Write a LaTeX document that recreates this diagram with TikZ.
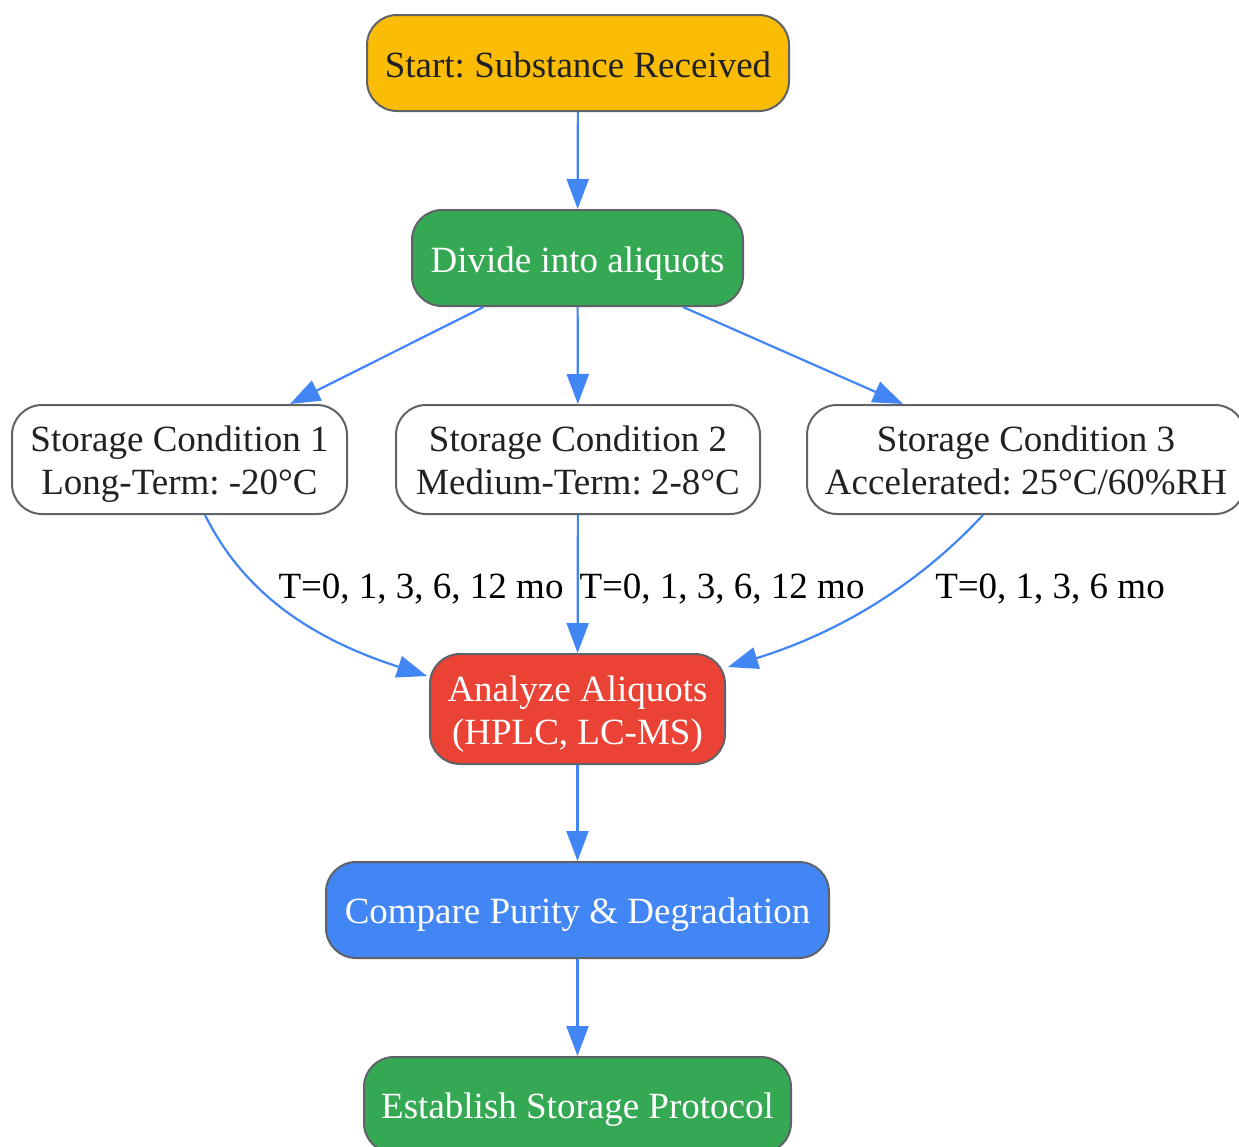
\documentclass[tikz,border=0pt]{standalone}
\usepackage{fontspec}
\setmainfont{Liberation Serif}
\frenchspacing
\usetikzlibrary{arrows.meta,calc}
\definecolor{gyellow}{HTML}{FBBC05}
\definecolor{ggreen}{HTML}{34A853}
\definecolor{gred}{HTML}{EA4335}
\definecolor{gblue}{HTML}{4285F4}
\definecolor{gborder}{HTML}{5F6368}
\definecolor{gtext}{HTML}{202124}
\tikzset{
  box/.style={draw=gborder, line width=1pt, rounded corners=15pt, inner sep=0pt},
  boxtxt/.style={inner sep=0pt, align=center, font=\fontsize{18.5}{21.5}\selectfont},
  flow/.style={draw=gblue, line width=1.1pt, -{Triangle[length=15pt,width=11pt]}},
  lab/.style={font=\fontsize{18.5}{21.5}\selectfont, text=black, inner sep=0pt}
}
\begin{document}
\begin{tikzpicture}[x=0.5pt,y=-0.5pt]
\clip (0,0) rectangle (1239,1147);
\fill[white] (0,0) rectangle (1239,1147);
\node[box, fill=gyellow, minimum width=211pt, minimum height=48pt] (start) at (578,63) {};
\node[box, fill=ggreen, minimum width=165.5pt, minimum height=48pt] (div) at (577.5,258) {};
\node[box, fill=white, minimum width=167.5pt, minimum height=54.5pt] (sc1) at (179.5,459.5) {};
\node[box, fill=white, minimum width=182pt, minimum height=54.5pt] (sc2) at (578,459.5) {};
\node[box, fill=white, minimum width=219pt, minimum height=54.5pt] (sc3) at (1026,459.5) {};
\node[box, fill=gred, minimum width=147.5pt, minimum height=55pt] (an) at (577.5,709) {};
\node[box, fill=gblue, minimum width=251.5pt, minimum height=48pt] (cmp) at (577.5,910) {};
\node[box, fill=ggreen, minimum width=213.5pt, minimum height=48pt] (est) at (577.5,1105) {};

\node[boxtxt, text=gtext] (tstart) at ($(start)+(0,2)$) {Start: Substance Received};
\node[boxtxt, text=white] (tdiv) at ($(div)+(0,6)$) {Divide into aliquots};
\node[boxtxt, text=gtext] (tsc1) at ($(sc1)+(0,5)$) {Storage Condition 1\\Long-Term: -20°C};
\node[boxtxt, text=gtext] (tsc2) at ($(sc2)+(0,1)$) {Storage Condition 2\\Medium-Term: 2-8°C};
\node[boxtxt, text=gtext] (tsc3) at ($(sc3)+(0,1)$) {Storage Condition 3\\Accelerated: 25°C/60\%RH};
\node[boxtxt, text=white] (tan) at ($(an)+(0,5)$) {Analyze Aliquots\\(HPLC, LC-MS)};
\node[boxtxt, text=white] (tcmp) at ($(cmp)+(0,5)$) {Compare Purity \& Degradation};
\node[boxtxt, text=white] (test) at ($(est)+(0,5)$) {Establish Storage Protocol};

\draw[flow] (start) -- (div);
\draw[flow] ($(div.south)+(-94,0)$) -- ($(sc1.north)+(110.5,0)$);
\draw[flow] (div) -- (sc2);
\draw[flow] ($(div.south)+(105.5,0)$) -- ($(sc3.north)+(-123,0)$);
\draw[flow] ($(sc1.south)+(25.5,0)$) .. controls (240,585) and (300,635) .. ($(an.north west)+(-2,23)$);
\draw[flow] (sc2) -- (an);
\draw[flow] ($(sc3.south)+(-43,0)$) .. controls (955,545) and (880,620) .. ($(an.north east)+(2,14)$);
\draw[flow] (an) -- (cmp);
\draw[flow] (cmp) -- (est);

\node[lab] (l1) at (421,589) {T=0, 1, 3, 6, 12 mo};
\node[lab] (l2) at (722,589) {T=0, 1, 3, 6, 12 mo};
\node[lab] (l3) at (1050,589) {T=0, 1, 3, 6 mo};
\end{tikzpicture}
\end{document}
